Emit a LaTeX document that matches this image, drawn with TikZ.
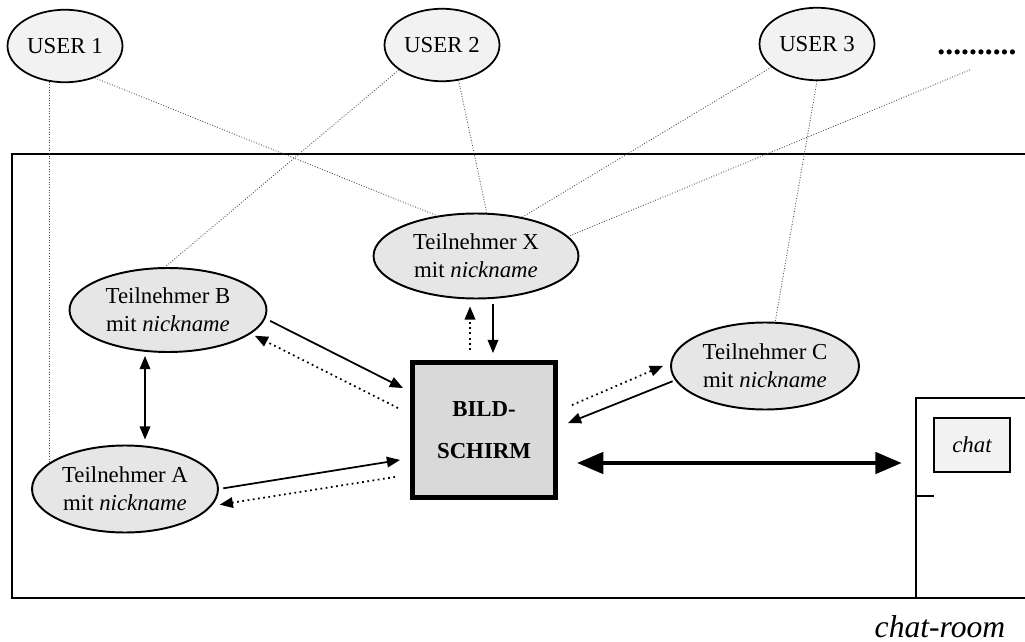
\documentclass[tikz,border=0pt]{standalone}
\usepackage{fontspec}
\setmainfont{Liberation Serif}
\usetikzlibrary{shapes.geometric, arrows.meta}
\definecolor{userfill}{HTML}{F2F2F2}
\definecolor{partfill}{HTML}{E6E6E6}
\definecolor{screenfill}{HTML}{D9D9D9}
\tikzset{
	txt/.style = {align=center, inner sep=0pt, font=\fontsize{13}{16}\selectfont},
	user/.style = {txt, ellipse, draw=black, line width=1pt, fill=userfill, minimum width=2.3cm, minimum height=1.45cm},
	member/.style = {txt, ellipse, draw=black, line width=1.1pt, fill=partfill, minimum width=3.76cm, minimum height=1.74cm},
	screen/.style = {txt, draw=black, line width=2.8pt, fill=screenfill, minimum width=2.86cm, minimum height=2.7cm, font=\fontsize{13}{24}\selectfont\bfseries},
	chatbox/.style = {txt, draw=black, line width=1.4pt, fill=userfill, minimum width=1.52cm, minimum height=1.08cm, font=\fontsize{13}{16}\selectfont\itshape},
	wall/.style = {line width=1.6pt},
	link/.style = {densely dotted, line width=0.5pt, black!70},
	flow/.style = {line width=1pt, -{Triangle[length=7.5pt,width=6pt]}},
	back/.style = {flow, dotted},
	twoway/.style = {line width=1pt, {Triangle[length=7.5pt,width=6pt]}-{Triangle[length=7.5pt,width=6pt]}},
	bigway/.style = {line width=2.5pt, {Triangle[length=15pt,width=12pt]}-{Triangle[length=15pt,width=12pt]}}
}
\begin{document}
\begin{tikzpicture}[x=0.02cm, y=-0.02cm]
		\useasboundingbox (0,0) rectangle (1025,642);
		\draw[wall] (1030,154) -- (12,154) -- (12,598) -- (1030,598);
		\draw[wall] (1030,398) -- (916,398) -- (916,598);
		\draw[wall] (916,496) -- (934,496);

		\node [user] (u1) at (65,46) {USER 1};
		\node [user] (u2) at (442,45) {USER 2};
		\node [user] (u3) at (817,44) {USER 3};
		\node [txt, anchor=base, font=\fontsize{18}{20}\selectfont\bfseries] (more) at (977,55) {..........};

		\node [member, minimum width=4.1cm, minimum height=1.7cm] (x) at (476,256) {Teilnehmer X\\mit \textit{nickname}};
		\node [member, minimum width=3.94cm, minimum height=1.68cm] (b) at (168,310) {Teilnehmer B\\mit \textit{nickname}};
		\node [member] (c) at (765,366) {Teilnehmer C\\mit \textit{nickname}};
		\node [member, minimum width=3.72cm] (a) at (125,489) {Teilnehmer A\\mit \textit{nickname}};
		\node [screen] (bild) at (484,430) {BILD-\\SCHIRM};
		\node [chatbox] (chat) at (972,445) {chat};
		\node [txt, font=\fontsize{18}{20}\selectfont\itshape] (room) at (940,627) {chat-room};

		\draw[link] (u1.246) -- (u1.246 |- a.161);
		\draw[link] (u1.-47) -- (x.134);
		\draw[link] (u2.-150) -- (b.94);
		\draw[link] (u2.-65) -- (x.76);
		\draw[link] (u3.-153) -- (x.40);
		\draw[link] (u3.south) -- (c.77);
		\draw[link] ([shift={(-7,14)}]more.south) -- (x.12);

		\draw[flow, shorten <=3pt] (b.-5) -- ([shift={(-7,28)}]bild.north west);
		\draw[back, shorten >=2.5pt] ([shift={(-12,48)}]bild.north west) -- (b.-16);
		\draw[flow, shorten <=2.5pt] (a.0) -- ([shift={(-10,-40)}]bild.south west);
		\draw[back, shorten >=4.5pt] ([shift={(-15,-23)}]bild.south west) -- (a.-11);
		\draw[flow] ([shift={(17,5)}]x.south) -- ([shift={(9,-7)}]bild.north);
		\draw[back] ([shift={(-14,-10)}]bild.north) -- ([shift={(-6,7)}]x.south);
		\draw[flow, shorten <=1.5pt] (c.-171) -- ([shift={(10,63)}]bild.north east);
		\draw[back, shorten >=4.5pt] ([shift={(14,45)}]bild.north east) -- (c.178);
		\draw[twoway] ([shift={(-23,3)}]b.south) -- ([shift={(20,-5)}]a.north);
		\draw[bigway] ([shift={(19,33)}]bild.east) -- ([shift={(-31,18)}]chat.west);
\end{tikzpicture}
\end{document}
